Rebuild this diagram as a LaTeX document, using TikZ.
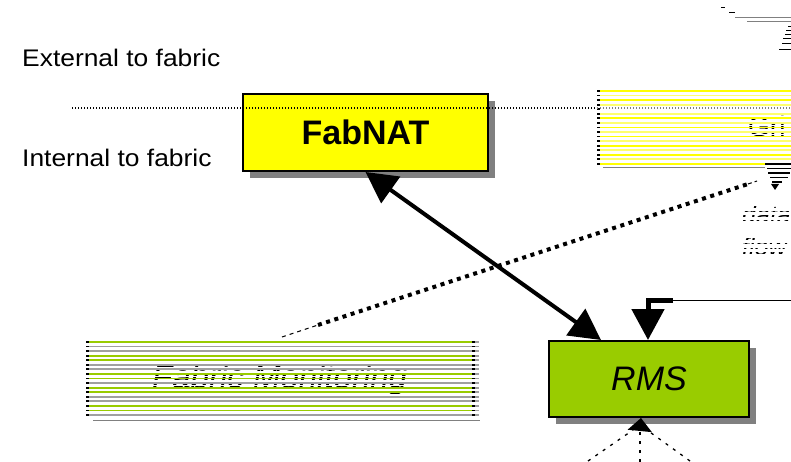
\documentclass[tikz,border=0pt]{standalone}
\usepackage{fontspec}
\setmainfont{Liberation Sans}
\usetikzlibrary{arrows.meta,shadows,calc}
\definecolor{fabyellow}{RGB}{255,255,0}
\definecolor{paleyellow}{RGB}{255,255,110}
\definecolor{rmsgreen}{RGB}{153,204,0}
\definecolor{shadowgray}{RGB}{128,128,128}
\definecolor{stripegray}{RGB}{160,160,160}
\tikzset{
  sidelabel/.style={anchor=base west,inner sep=0pt,font=\fontsize{24}{28}\selectfont},
  mainbox/.style={draw=black,line width=2pt,inner sep=0pt,anchor=north west,
    drop shadow={shadow xshift=7pt,shadow yshift=-7pt,fill=shadowgray,opacity=1}},
  bigtip/.tip={Triangle[length=31pt,width=32pt]},
  smalltip/.tip={Triangle[length=13pt,width=24pt]},
  flowline/.style={line width=4pt},
  fineline/.style={line width=1.4pt,dash pattern=on 1.3pt off 1.7pt},
  thickdots/.style={line width=4pt,dash pattern=on 4pt off 4.6pt},
  ghost/.style={inner sep=0pt,anchor=base west,text=black},
  brokendash/.style={line width=1.3pt,dash pattern=on 3pt off 6pt}
}
\begin{document}
\begin{tikzpicture}[x=1pt,y=-1pt]
\useasboundingbox[fill=white] (0,0) rectangle (791,462);

% side labels
\node[sidelabel] (ext) at (22,67) {\scalebox{1.1}[1]{External to fabric}};
\node[sidelabel] (int) at (22,167) {\scalebox{1.1}[1]{Internal to fabric}};

% ---------- Fabric Monitoring (striped) ----------
\node[ghost,font=\fontsize{33}{38}\selectfont\itshape] (fmtext) at (152,388) {Fabric Monitoring};
\coordinate (fm) at (280,340);
\foreach \i/\c in {0/rmsgreen,1/stripegray,2/stripegray,3/rmsgreen,4/rmsgreen,5/stripegray,6/stripegray,7/rmsgreen,8/rmsgreen,9/stripegray,10/rmsgreen,11/rmsgreen,12/stripegray,13/stripegray,14/rmsgreen,15/rmsgreen,16/stripegray}{
  \pgfmathsetmacro\yy{342+\i*4.56}
  \pgfmathsetmacro\yw{\yy+2.5}
  \draw[line width=1.8pt,\c] (89,\yy) -- (472,\yy);
  \draw[line width=1.8pt,black] (86,\yy) -- (89,\yy);
  \draw[line width=1.8pt,black] (472,\yy) -- (475,\yy);
  \draw[line width=1.8pt,stripegray] (475,\yy) -- (479,\yy);
  \ifnum\i<16 \draw[line width=1.5pt,white] (89,\yw) -- (472,\yw); \fi
}
\draw[line width=1pt,shadowgray] (93,420) -- (480,420);

% ---------- Grid box (striped, cut at the right edge) ----------
\node[ghost,font=\fontsize{28}{32}\selectfont] (gridtext) at (748,137) {Gri};
\foreach \i in {0,...,16}{
  \pgfmathsetmacro\yy{91+\i*4.56}
  \pgfmathsetmacro\yw{\yy+2.5}
  \pgfmathtruncatemacro\odd{mod(\i,2)}
  \ifnum\i=4\else
    \ifnum\odd=1
      \draw[line width=1.8pt,paleyellow] (600,\yy) -- (791,\yy);
    \else
      \draw[line width=1.8pt,fabyellow] (600,\yy) -- (791,\yy);
    \fi
  \fi
  \draw[line width=1.8pt,black] (597,\yy) -- (600,\yy);
  \ifnum\i<16 \draw[line width=1.5pt,white] (600,\yw) -- (791,\yw); \fi
}
\draw[line width=1pt,shadowgray] (603,168) -- (765,168);

% striped down-pointing head under the Grid box
\foreach \yy/\xa/\xb in {164/765/791,168.5/767/791,173/768/790,177.5/770/788,182/772/782}{
  \draw[line width=1.4pt,black] (\xa,\yy) -- (\xb,\yy);
}
\coordinate (gridtip) at (775,190);
\fill[black] (771,184) -- (779,184) -- (gridtip) -- cycle;

% top right fragments
\draw[line width=1pt,black] (721,8) -- (725,8);
\draw[line width=1pt,black] (729,13) -- (735,13);
\draw[line width=1pt,shadowgray] (735,18) -- (791,18);
\draw[line width=1pt,shadowgray] (747,22) -- (791,22);
\foreach \yy/\xa in {27/788,31/786,35/785,39/783,44/782,50/779}{
  \draw[line width=1pt,black] (\xa,\yy) -- (791,\yy);
}

% data flow label (scanned look)
\node[ghost,font=\fontsize{25}{28}\selectfont\itshape] (datatext) at (742,223) {data};
\node[ghost,font=\fontsize{25}{28}\selectfont\itshape] (flowtext) at (742,255) {flow};
\foreach \i in {0,...,13}{
  \pgfmathsetmacro\yw{200+\i*4.6}
  \draw[line width=3.3pt,white] (736,\yw) -- (791,\yw);
}

% ---------- main boxes ----------
\node[mainbox,fill=fabyellow,minimum width=245pt,minimum height=77pt,
      font=\fontsize{34}{40}\selectfont\bfseries] (fabnat) at (242,93) {FabNAT};
\node[mainbox,fill=rmsgreen,minimum width=200pt,minimum height=76pt,
      font=\fontsize{34}{40}\selectfont\itshape] (rms) at (548,340) {RMS};

% fabric boundary
\coordinate (bl) at (72,108);
\coordinate (bm) at (597,108);
\coordinate (br) at (791,108);
\draw[fineline,black] (bl) -- (bm);
\draw[fineline,shadowgray] (bm) -- (br);

% dotted data-flow line from Fabric Monitoring towards the Grid
\coordinate (d1) at (318,325);
\coordinate (d2) at (748,184);
\coordinate (d3) at (757,181);
\draw[line width=1pt,dash pattern=on 4pt off 4pt] (282,337) -- (d1);
\draw[thickdots] (d1) -- (d2);
\draw[line width=1pt,dash pattern=on 4pt off 3pt] (d2) -- (d3);

% FabNAT <-> RMS
\draw[flowline,bigtip-bigtip] (fabnat.south) -- ([xshift=53pt]rms.north west);

% input from the right into RMS
\coordinate (rin) at (791,300);
\coordinate (rbend) at (673,300);
\draw[line width=1pt] (rin) -- (rbend);
\draw[line width=5pt,-bigtip] (rbend) -| ([xshift=100pt]rms.north west);

% input from below into RMS
\coordinate (bin) at (640,462);
\coordinate (bl1) at (588,461);
\coordinate (br1) at (690,461);
\draw[line width=2pt,-smalltip] (640,428) -- ([xshift=93pt]rms.south west);
\draw[brokendash] (bin) -- (640,430);
\draw[brokendash] (bl1) -- (633,430);
\draw[brokendash] (br1) -- (647,430);
\end{tikzpicture}
\end{document}
